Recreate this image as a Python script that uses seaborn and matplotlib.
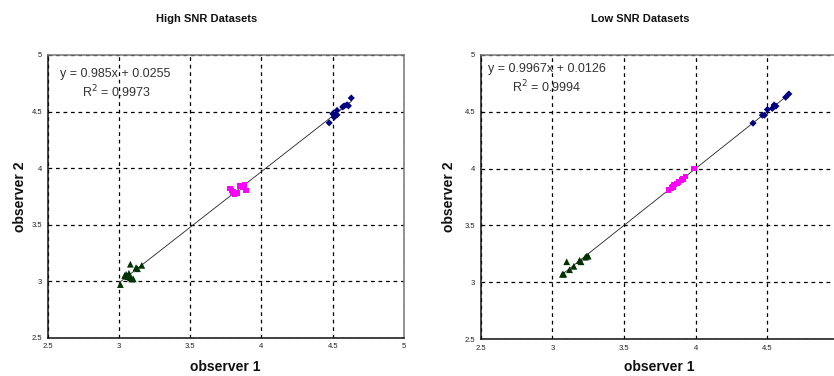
import numpy as np
import pandas as pd
import matplotlib
matplotlib.use("Agg")
import matplotlib.pyplot as plt
import seaborn as sns

# ---------------- data ----------------
titles = ["High SNR Datasets", "Low SNR Datasets"]
equations = ["y = 0.985x + 0.0255", "y = 0.9967x + 0.0126"]
r2_texts = ["R$^2$ = 0.9973", "R$^2$ = 0.9994"]
tick_values = [2.5, 3, 3.5, 4, 4.5, 5]
tick_labels = ["2.5", "3", "3.5", "4", "4.5", "5"]
# the right chart is cropped just past 4.5 on its x axis in the reference
right_x_tick_labels = ["2.5", "3", "3.5", "4", "4.5"]

high_green_x = [3.01, 3.04, 3.08, 3.07, 3.08, 3.09, 3.13, 3.16, 3.06, 3.10, 3.05, 3.12]
high_green_y = [2.97, 3.05, 3.15, 3.07, 3.03, 3.02, 3.11, 3.14, 3.04, 3.02, 3.06, 3.12]
high_mag_x = [3.78, 3.80, 3.81, 3.82, 3.83, 3.85, 3.87, 3.88, 3.89, 3.79]
high_mag_y = [3.82, 3.79, 3.77, 3.78, 3.78, 3.84, 3.83, 3.85, 3.80, 3.80]
high_navy_x = [4.475, 4.50, 4.51, 4.53, 4.53, 4.57, 4.60, 4.61, 4.63, 4.58]
high_navy_y = [4.40, 4.48, 4.45, 4.51, 4.47, 4.54, 4.56, 4.55, 4.62, 4.55]

low_green_x = [3.08, 3.10, 3.12, 3.15, 3.19, 3.20, 3.24, 3.25, 3.23, 3.19, 3.07]
low_green_y = [3.07, 3.18, 3.11, 3.14, 3.19, 3.18, 3.23, 3.23, 3.22, 3.19, 3.07]
low_mag_x = [3.81, 3.83, 3.84, 3.85, 3.87, 3.88, 3.90, 3.91, 3.93, 3.99]
low_mag_y = [3.81, 3.83, 3.84, 3.86, 3.87, 3.88, 3.90, 3.91, 3.93, 4.00]
low_navy_x = [4.40, 4.465, 4.48, 4.50, 4.535, 4.547, 4.56, 4.628, 4.65]
low_navy_y = [4.40, 4.47, 4.47, 4.52, 4.53, 4.56, 4.55, 4.628, 4.657]

groups = ["low", "mid", "high"]
palette = {"low": "#003300", "mid": "#FF00FF", "high": "#000080"}
markers = {"low": "^", "mid": "s", "high": "D"}
marker_sizes = {"low": 24, "mid": 16, "high": 13}


def make_df(gx, gy, mx, my, nx, ny):
    return pd.DataFrame({
        "x": gx + mx + nx,
        "y": gy + my + ny,
        "g": ["low"] * len(gx) + ["mid"] * len(mx) + ["high"] * len(nx),
    })


dfs = [
    make_df(high_green_x, high_green_y, high_mag_x, high_mag_y, high_navy_x, high_navy_y),
    make_df(low_green_x, low_green_y, low_mag_x, low_mag_y, low_navy_x, low_navy_y),
]

# ---------------- figure ----------------
sns.set_theme(style="white")
plt.rcParams["font.family"] = ["Liberation Sans", "DejaVu Sans"]

W, H = 834, 376
fig = plt.figure(figsize=(W / 100, H / 100), dpi=100)
fig.patch.set_facecolor("white")


def px_axes(x0, y0, x1, y1):
    return fig.add_axes([x0 / W, 1 - y1 / H, (x1 - x0) / W, (y1 - y0) / H])


axes = [px_axes(47.7, 55, 404, 337.7), px_axes(480.7, 55, 839, 339)]
title_x = [206.7, 640.7]
xlabel_x = [225, 659]
ylabel_x = [20, 449]
eq_pos = [(60, 74), (488, 69)]
r2_pos = [(116, 92), (547, 87)]

for i, ax in enumerate(axes):
    df = dfs[i]
    sns.regplot(data=df, x="x", y="y", ax=ax, scatter=False, ci=None,
                truncate=True, line_kws={"color": "#222222", "lw": 0.6})
    sns.scatterplot(data=df, x="x", y="y", hue="g", style="g", size="g",
                    sizes=marker_sizes, size_order=groups,
                    palette=palette, markers=markers, hue_order=groups,
                    style_order=groups, edgecolor="none",
                    legend=False, ax=ax, zorder=3)
    ax.set_xlim(2.5, 5)
    ax.set_ylim(2.5, 5)
    ax.set_xticks(tick_values)
    if i == 0:
        ax.set_xticklabels(tick_labels)
    else:
        ax.set_xticklabels(right_x_tick_labels + [""])
    ax.set_yticks(tick_values)
    ax.set_yticklabels(tick_labels)
    ax.tick_params(labelsize=5.5, length=0, pad=4, colors="#222222")
    ax.set_xlabel("")
    ax.set_ylabel("")
    ax.grid(True, color="black", linestyle=(0, (3, 3)), linewidth=0.9)
    ax.set_axisbelow(True)
    for side in ["left", "bottom"]:
        ax.spines[side].set_color("#111111")
        ax.spines[side].set_linewidth(1.1)
    for side in ["top", "right"]:
        ax.spines[side].set_color("#777777")
        ax.spines[side].set_linewidth(1.1)
    for s in ax.spines.values():
        s.set_visible(True)

    fig.text(title_x[i] / W, 1 - 19 / H, titles[i], ha="center", va="center",
             fontsize=8, fontweight="bold", color="#111111")
    fig.text(xlabel_x[i] / W, 1 - 367 / H, "observer 1", ha="center", va="center",
             fontsize=10, fontweight="bold", color="#111111")
    fig.text(ylabel_x[i] / W, 1 - 197 / H, "observer 2", ha="center", va="center",
             rotation=90, fontsize=10, fontweight="bold", color="#111111")
    fig.text(eq_pos[i][0] / W, 1 - eq_pos[i][1] / H, equations[i], ha="left",
             va="center", fontsize=9, color="#333333")
    fig.text(r2_pos[i][0] / W, 1 - r2_pos[i][1] / H, r2_texts[i], ha="center",
             va="center", fontsize=9, color="#333333")

fig.savefig("out.png", dpi=100)
